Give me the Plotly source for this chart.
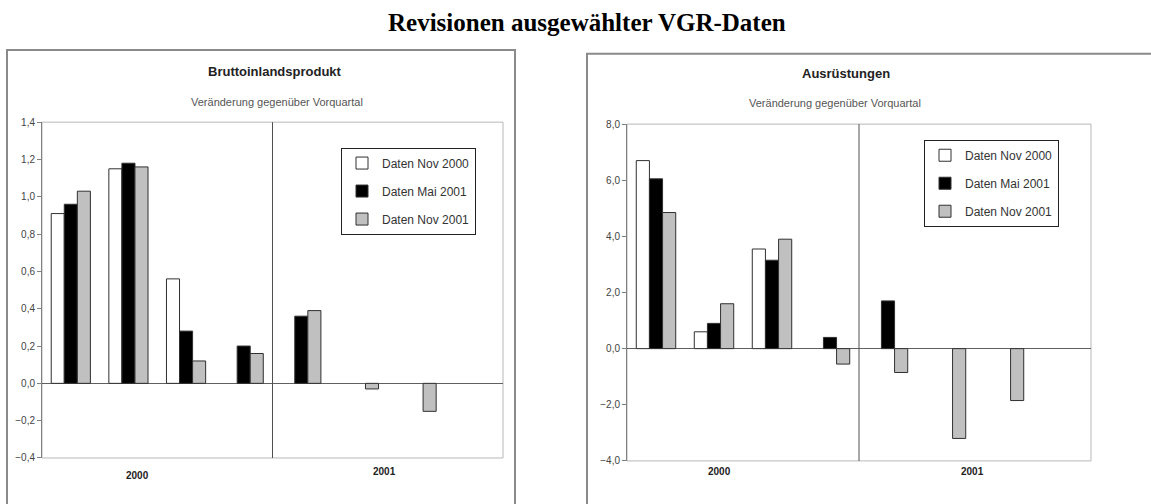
"""
Revisionen ausgewählter VGR-Daten - two grouped bar panels
"""

import plotly.graph_objects as go

W, H = 1151, 504

quarters = ["I/2000", "II/2000", "III/2000", "IV/2000",
            "I/2001", "II/2001", "III/2001", "IV/2001"]
series_names = ["Daten Nov 2000", "Daten Mai 2001", "Daten Nov 2001"]

# Bruttoinlandsprodukt, Veränderung gegenüber Vorquartal
bip_nov2000 = [0.91, 1.15, 0.56, None, None, None, None, None]
bip_mai2001 = [0.96, 1.18, 0.28, 0.20, 0.36, None, None, None]
bip_nov2001 = [1.03, 1.16, 0.12, 0.16, 0.39, -0.03, -0.15, None]

# Ausrüstungen, Veränderung gegenüber Vorquartal
ausr_nov2000 = [6.70, 0.60, 3.55, None, None, None, None, None]
ausr_mai2001 = [6.05, 0.90, 3.15, 0.40, 1.70, None, None, None]
ausr_nov2001 = [4.85, 1.60, 3.90, -0.55, -0.85, -3.20, -1.85, None]

year_labels = ["2000", "2001"]

fills = ["#ffffff", "#000000", "#c0c0c0"]
FONT = "Arial, Liberation Sans, sans-serif"


def px_x(v):
    return v / W


def px_y(v):
    return 1 - v / H


fig = go.Figure()

panels = [
    dict(xa="x", ya="y", legend="legend", data=[bip_nov2000, bip_mai2001, bip_nov2001], tag="b"),
    dict(xa="x2", ya="y2", legend="legend2", data=[ausr_nov2000, ausr_mai2001, ausr_nov2001], tag="a"),
]

for p in panels:
    for name, vals, col in zip(series_names, p["data"], fills):
        fig.add_trace(go.Bar(
            x=quarters, y=vals, name=name,
            xaxis=p["xa"], yaxis=p["ya"], legend=p["legend"],
            legendgroup=p["tag"] + name,
            marker=dict(color=col, line=dict(color="#303030", width=1)),
        ))

axis_common = dict(showgrid=False, fixedrange=True)

fig.update_layout(
    width=W, height=H,
    margin=dict(l=0, r=0, t=0, b=0),
    paper_bgcolor="white", plot_bgcolor="white",
    separators=",.",
    barmode="group", bargap=0.32, bargroupgap=0,
    font=dict(family=FONT, size=10, color="#222"),
    xaxis=dict(domain=[px_x(42), px_x(503)], anchor="y", showticklabels=False,
               ticks="", showline=False, zeroline=False, range=[-0.5, 7.5], **axis_common),
    yaxis=dict(domain=[px_y(463), px_y(119)], anchor="x", range=[-0.4, 1.4],
               dtick=0.2, tickformat=".1f", ticks="outside", ticklen=4,
               tickcolor="#808080", showline=True, linecolor="#808080",
               zeroline=True, zerolinecolor="#606060", zerolinewidth=1,
               tickfont=dict(size=10, color="#444"), **axis_common),
    xaxis2=dict(domain=[px_x(627), px_x(1091)], anchor="y2", showticklabels=False,
                ticks="", showline=False, zeroline=False, range=[-0.5, 7.5], **axis_common),
    yaxis2=dict(domain=[px_y(466), px_y(121)], anchor="x2", range=[-4, 8],
                dtick=2, tickformat=".1f", ticks="outside", ticklen=4,
                tickcolor="#808080", showline=True, linecolor="#808080",
                zeroline=True, zerolinecolor="#606060", zerolinewidth=1,
                tickfont=dict(size=10, color="#444"), **axis_common),
    legend=dict(x=px_x(341), y=px_y(145), xanchor="left", yanchor="top",
                bgcolor="white", bordercolor="#222", borderwidth=1,
                font=dict(size=12, color="#333"), tracegroupgap=9,
                itemwidth=30),
    legend2=dict(x=px_x(924), y=px_y(137), xanchor="left", yanchor="top",
                 bgcolor="white", bordercolor="#222", borderwidth=1,
                 font=dict(size=12, color="#333"), tracegroupgap=9,
                 itemwidth=30),
    showlegend=True,
)

# outer frames of the two panels
fig.add_shape(type="rect", xref="paper", yref="paper",
              x0=px_x(7), x1=px_x(515), y0=-0.1, y1=px_y(45),
              line=dict(color="#8a8a8a", width=2), layer="below")
fig.add_shape(type="rect", xref="paper", yref="paper",
              x0=px_x(587), x1=1.05, y0=-0.1, y1=px_y(49),
              line=dict(color="#8a8a8a", width=2), layer="below")

# plot area borders and year separators
for xa, ya in [("x", "y"), ("x2", "y2")]:
    fig.add_shape(type="rect", xref=xa + " domain", yref=ya + " domain",
                  x0=0, x1=1, y0=0, y1=1,
                  line=dict(color="#b8b8b8", width=1), layer="below")
    fig.add_shape(type="line", xref=xa, yref=ya + " domain",
                  x0=3.5, x1=3.5, y0=0, y1=1,
                  line=dict(color="#505050", width=1))

# titles
fig.add_annotation(text="<b>Revisionen ausgewählter VGR-Daten</b>",
                   xref="paper", yref="paper", x=px_x(587), y=px_y(17),
                   xanchor="center", yanchor="middle", showarrow=False,
                   font=dict(family="Liberation Serif, Times New Roman, serif",
                             size=25, color="black"))

panel_text = [
    ("Bruttoinlandsprodukt", 275, 67, 277, 98),
    ("Ausrüstungen", 846, 69, 835, 99),
]
for title, tx, ty, sx, sy in panel_text:
    fig.add_annotation(text="<b>" + title + "</b>", xref="paper", yref="paper",
                       x=px_x(tx), y=px_y(ty), xanchor="center", yanchor="middle",
                       showarrow=False, font=dict(size=13, color="#222"))
    fig.add_annotation(text="Veränderung gegenüber Vorquartal", xref="paper", yref="paper",
                       x=px_x(sx), y=px_y(sy), xanchor="center", yanchor="middle",
                       showarrow=False, font=dict(size=11, color="#555"))

# year labels below each panel
for xa, positions in [("x", [(1.15, 481), (5.45, 477)]), ("x2", [(1.1, 477), (5.45, 477)])]:
    for label, (xpos, ypix) in zip(year_labels, positions):
        fig.add_annotation(text="<b>" + label + "</b>", xref=xa, yref="paper",
                           x=xpos, y=px_y(ypix), xanchor="center", yanchor="middle",
                           showarrow=False, font=dict(size=10, color="#222"))

fig.write_html("out.html", config={"displayModeBar": False},
               post_script="document.body.style.margin='0';")
